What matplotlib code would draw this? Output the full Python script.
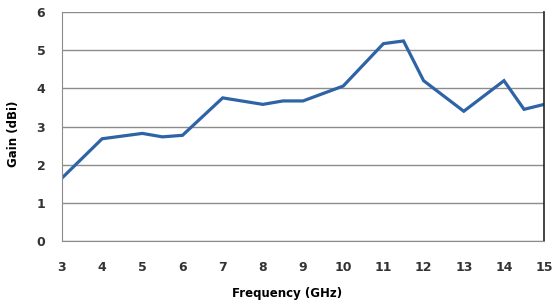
import matplotlib.pyplot as plt

freq = [3, 4, 5, 5.5, 6, 7, 8, 8.5, 9, 10, 11, 11.5, 12, 13, 14, 14.5, 15]
gain = [1.65, 2.68, 2.82, 2.73, 2.77, 3.75, 3.58, 3.67, 3.67, 4.06, 5.17, 5.24, 4.2, 3.4, 4.2, 3.45, 3.58]

plt.rcParams["font.family"] = "DejaVu Sans"
plt.rcParams["font.size"] = 9

fig = plt.figure(figsize=(5.53, 3.06), dpi=100)
ax = fig.add_axes([0.112, 0.212, 0.872, 0.749])

ax.plot(freq, gain, color='#2e63a6', linewidth=2.3, solid_joinstyle='miter')

ax.set_xlim(3, 15)
ax.set_ylim(0, 6)
ax.set_xticks(range(3, 16))
ax.set_yticks(range(0, 7))
ax.yaxis.grid(True, color='#8c8c8c', linewidth=1)
ax.set_axisbelow(True)

ax.spines['top'].set_visible(False)
ax.spines['left'].set_color('#8c8c8c')
ax.spines['bottom'].set_color('#8c8c8c')
ax.spines['right'].set_color('#222222')
ax.spines['right'].set_linewidth(1.2)
ax.tick_params(length=0, colors='#333333', labelsize=9)
ax.tick_params(axis='x', pad=14)
ax.tick_params(axis='y', pad=12)
for lab in ax.get_xticklabels() + ax.get_yticklabels():
    lab.set_fontweight('bold')

ax.set_xlabel('Frequency (GHz)', fontweight='bold', fontsize=8.5)
ax.xaxis.set_label_coords(0.467, -0.2)
ax.set_ylabel('Gain (dBi)', fontweight='bold', fontsize=8.5)
ax.yaxis.set_label_coords(-0.087, 0.47)

fig.savefig('out.png', dpi=100)
